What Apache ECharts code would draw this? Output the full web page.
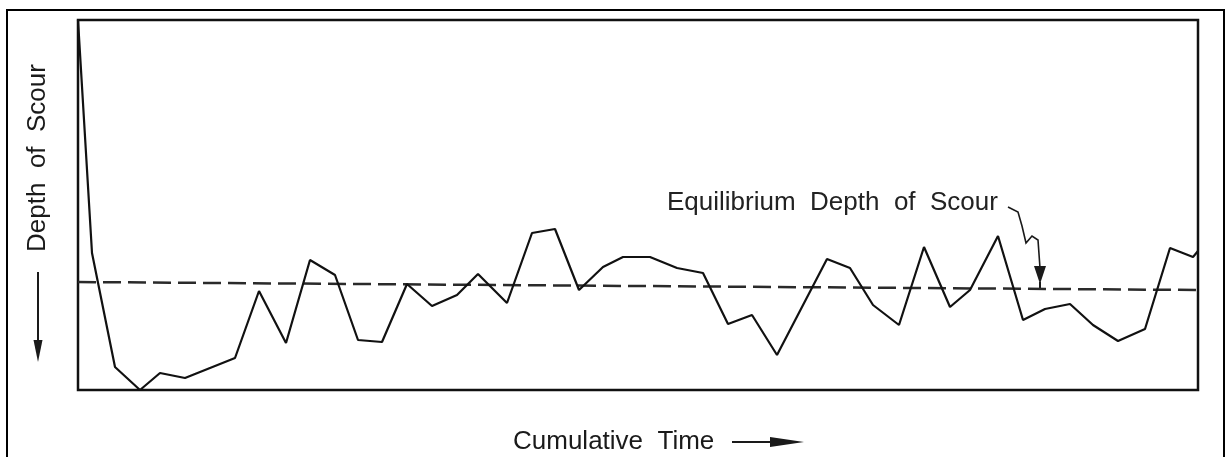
<!DOCTYPE html>
<html>
<head>
<meta charset="utf-8">
<script src="https://cdn.jsdelivr.net/npm/echarts@6/dist/echarts.min.js"></script>
<style>
html,body{margin:0;padding:0;background:#fff;}
#c{width:1227px;height:457px;}
</style>
</head>
<body>
<div id="c"></div>
<script>
// Cumulative time (arbitrary units) and depth of scour (arbitrary units, increasing downward)
const timeValues = [0.0, 1.4, 3.7, 6.2, 8.2, 10.7, 15.7, 18.1, 20.8, 23.2, 25.7, 28.0, 30.4, 32.9, 35.4, 37.9, 40.0, 42.9, 45.4, 47.7, 50.1, 52.5, 54.5, 57.2, 59.9, 62.5, 65.0, 67.4, 69.9, 74.9, 77.2, 79.5, 82.1, 84.6, 87.2, 89.2, 92.0, 94.5, 96.7, 99.2, 101.5, 104.0, 106.7, 109.2, 111.5, 112.0];
const depthValues = [0.0, 23.3, 34.7, 37.0, 35.3, 35.8, 33.8, 27.1, 32.3, 24.0, 25.5, 32.0, 32.2, 26.4, 28.6, 27.5, 25.4, 28.3, 21.3, 20.9, 27.0, 24.7, 23.7, 23.7, 24.8, 25.3, 30.4, 29.5, 33.5, 23.9, 24.8, 28.5, 30.5, 22.7, 28.7, 27.0, 21.6, 30.0, 28.9, 28.4, 30.5, 32.1, 30.9, 22.8, 23.7, 23.1];
const equilibriumTime = [0, 112];
const equilibriumDepth = [26.2, 27.0];
const yLabel = 'Depth  of  Scour';
const xLabel = 'Cumulative  Time';
const annotation = 'Equilibrium  Depth  of  Scour';

const chart = echarts.init(document.getElementById('c'), null, {renderer: 'canvas'});
const font = '"Liberation Sans", Arial, Helvetica, sans-serif';
const ink = '#1a1a1a';

const scourData = timeValues.map((t, i) => [t, depthValues[i]]);
const eqData = equilibriumTime.map((t, i) => [t, equilibriumDepth[i]]);

function arrowDown(x, y1, y2, headLen, headW) {
  return [
    {type: 'line', shape: {x1: x, y1: y1, x2: x, y2: y2 - headLen + 2}, style: {stroke: ink, lineWidth: 2}},
    {type: 'polygon', shape: {points: [[x - headW / 2, y2 - headLen], [x + headW / 2, y2 - headLen], [x, y2]]}, style: {fill: ink}}
  ];
}

const graphics = [
  {type: 'rect', shape: {x: 7, y: 10, width: 1217, height: 470}, style: {fill: null, stroke: '#000', lineWidth: 2}, silent: true},
  {type: 'text', x: 38, y: 158, rotation: Math.PI / 2,
   style: {text: yLabel, font: '26px ' + font, fill: ink, align: 'center', verticalAlign: 'middle'}},
  ...arrowDown(38, 272, 362, 22, 9),
  {type: 'text', x: 513, y: 442,
   style: {text: xLabel, font: '26px ' + font, fill: ink, align: 'left', verticalAlign: 'middle'}},
  {type: 'line', shape: {x1: 732, y1: 442, x2: 785, y2: 442}, style: {stroke: ink, lineWidth: 2}},
  {type: 'polygon', shape: {points: [[770, 437], [804, 442], [770, 447]]}, style: {fill: ink}},
  {type: 'text', x: 667, y: 203,
   style: {text: annotation, font: '26px ' + font, fill: '#222', align: 'left', verticalAlign: 'middle'}},
  {type: 'polyline', shape: {points: [[1008, 207], [1018, 212], [1022, 226], [1026, 243], [1032, 236], [1038, 240], [1040, 268]]},
   style: {stroke: ink, lineWidth: 1.6, fill: null}},
  {type: 'polygon', shape: {points: [[1034, 266], [1046, 266], [1040, 284]]}, style: {fill: ink}},
  {type: 'line', shape: {x1: 1040, y1: 282, x2: 1040, y2: 289}, style: {stroke: ink, lineWidth: 2}}
];

chart.setOption({
  animation: false,
  backgroundColor: '#fff',
  grid: {left: 78, right: 29, top: 20, bottom: 67, show: true, borderColor: '#111', borderWidth: 2.5, backgroundColor: 'transparent'},
  xAxis: {type: 'value', min: 0, max: 112,
    axisLine: {show: false}, axisTick: {show: false}, axisLabel: {show: false}, splitLine: {show: false}},
  yAxis: {type: 'value', min: 0, max: 37, inverse: true,
    axisLine: {show: false}, axisTick: {show: false}, axisLabel: {show: false}, splitLine: {show: false}},
  series: [
    {type: 'line', name: 'Equilibrium', data: eqData, symbol: 'none', silent: true,
     lineStyle: {color: '#2a2a2a', width: 2.5, type: [18, 7]}, z: 2},
    {type: 'line', name: 'Scour', data: scourData, symbol: 'none', silent: true,
     lineStyle: {color: '#111', width: 2.2}, z: 3}
  ],
  graphic: graphics
});
</script>
</body>
</html>
